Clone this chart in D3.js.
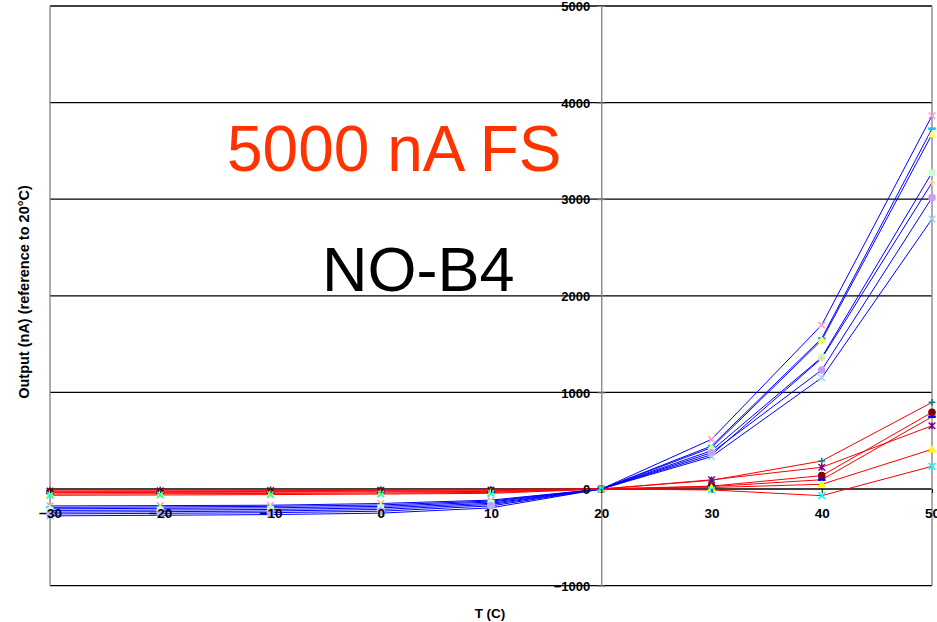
<!DOCTYPE html>
<html><head><meta charset="utf-8">
<script src="https://cdn.jsdelivr.net/npm/d3@7"></script>
<style>body{margin:0;background:#fff}svg{display:block}</style>
</head><body>
<svg id="c" width="937" height="622"></svg>
<script>
const temps = [-30,-20,-10,0,10,20,30,40,50];
const xTicks = [-30,-20,-10,0,10,20,30,40,50];
const yTicks = [-1000,0,1000,2000,3000,4000,5000];

const blueSeries = [
  {name:"B1", marker:"x",        color:"#FF99CC", values:[-175,-172,-168,-150,-115,0,514,1698,3864]},
  {name:"B2", marker:"dash",     color:"#00CCFF", values:[-190,-186,-180,-165,-125,0,445,1560,3730]},
  {name:"B3", marker:"triangle", color:"#FFFF66", values:[-205,-200,-195,-180,-135,0,428,1542,3672]},
  {name:"B4", marker:"square",   color:"#CCFFCC", values:[-222,-218,-212,-195,-148,0,397,1363,3274]},
  {name:"B5", marker:"plus",     color:"#FFCC99", values:[-240,-235,-228,-212,-160,0,355,1353,3171]},
  {name:"B6", marker:"circle",   color:"#CC99FF", values:[-258,-252,-245,-230,-175,0,376,1232,3016]},
  {name:"B7", marker:"x",        color:"#99CCFF", values:[-278,-272,-265,-250,-195,0,335,1152,2795]}
];
const redSeries = [
  {name:"R1", marker:"plus",     color:"#008080", values:[-10,-8,-6,-5,-3,0,90,290,897]},
  {name:"R2", marker:"asterisk", color:"#800080", values:[-21,-19,-17,-14,-10,0,95,225,655]},
  {name:"R3", marker:"circle",   color:"#800000", values:[-30,-28,-26,-22,-18,0,30,138,794]},
  {name:"R4", marker:"dash",     color:"#0000FF", values:[-38,-35,-33,-30,-25,0,25,96,748]},
  {name:"R5", marker:"triangle", color:"#FFFF00", values:[-52,-49,-46,-42,-35,0,15,49,411]},
  {name:"R6", marker:"x",        color:"#00FFFF", values:[-65,-62,-58,-52,-45,0,-10,-69,235]}
];

const L = 50, R = 932, T = 6, B = 585.6;
const FONT = "Liberation Sans, Arial, sans-serif";
const svg = d3.select("#c");
const x = d3.scaleLinear().domain([-30,50]).range([L,R]);
const y = d3.scaleLinear().domain([-1000,5000]).range([B,T]);

// horizontal gridlines
svg.append("g").selectAll("line").data(yTicks.filter(d=>d>-1000&&d<5000)).join("line")
  .attr("x1",L).attr("x2",R).attr("y1",d=>y(d)).attr("y2",d=>y(d))
  .attr("stroke","#000").attr("stroke-width",1.3);

// frame
svg.append("line").attr("x1",L).attr("x2",R).attr("y1",T).attr("y2",T).attr("stroke","#000").attr("stroke-width",1.3);
svg.append("line").attr("x1",L).attr("x2",R).attr("y1",B).attr("y2",B).attr("stroke","#000").attr("stroke-width",1.3);
svg.append("line").attr("x1",L).attr("x2",L).attr("y1",T).attr("y2",B).attr("stroke","#808080").attr("stroke-width",1.3);
svg.append("line").attr("x1",R).attr("x2",R).attr("y1",T).attr("y2",B).attr("stroke","#808080").attr("stroke-width",1.3);

const line = d3.line().x((d,i)=>x(temps[i])).y(d=>y(d));

svg.append("g").selectAll("path").data(blueSeries).join("path")
  .attr("d",d=>line(d.values)).attr("fill","none").attr("stroke","#0000FF").attr("stroke-width",1);
svg.append("g").selectAll("path").data(redSeries).join("path")
  .attr("d",d=>line(d.values)).attr("fill","none").attr("stroke","#FF0000").attr("stroke-width",1);

function drawMarker(g, type, color){
  const s = 3.3;
  if(type==="x"){
    g.append("path").attr("d",`M${-s},${-s}L${s},${s}M${-s},${s}L${s},${-s}`).attr("stroke",color).attr("stroke-width",1.5);
  } else if(type==="plus"){
    g.append("path").attr("d",`M${-s},0L${s},0M0,${-s}L0,${s}`).attr("stroke",color).attr("stroke-width",1.5);
  } else if(type==="asterisk"){
    g.append("path").attr("d",`M${-s},${-s}L${s},${s}M${-s},${s}L${s},${-s}M0,${-s}L0,${s}`).attr("stroke",color).attr("stroke-width",1.5);
  } else if(type==="dash"){
    g.append("rect").attr("x",-s-0.5).attr("y",-1.3).attr("width",2*s+1).attr("height",2.6).attr("fill",color);
  } else if(type==="triangle"){
    g.append("path").attr("d",`M0,${-s-1}L${s+1},${s}L${-s-1},${s}Z`).attr("fill",color);
  } else if(type==="square"){
    g.append("rect").attr("x",-s).attr("y",-s).attr("width",2*s).attr("height",2*s).attr("fill",color);
  } else if(type==="circle"){
    g.append("circle").attr("r",s+0.5).attr("fill",color);
  }
}
[...blueSeries, ...redSeries].forEach(s=>{
  const g = svg.append("g");
  s.values.forEach((v,i)=>{
    const m = g.append("g").attr("transform",`translate(${x(temps[i])},${y(v)})`);
    drawMarker(m, s.marker, s.color);
  });
});

// y axis at x=20
const yAxis = d3.axisLeft(y).tickValues(yTicks).tickFormat(d3.format("d")).tickSize(0).tickPadding(0);
const gy = svg.append("g").attr("transform",`translate(${x(20)},0)`).call(yAxis);
gy.select(".domain").attr("stroke","#808080").attr("stroke-width",1.3);
gy.selectAll(".tick text").attr("x",-11).attr("dy","0.36em")
  .attr("font-family",FONT).attr("font-weight","bold").attr("font-size",13).attr("fill","#000");
gy.selectAll(".tick").append("line").attr("x1",-4).attr("x2",4).attr("stroke","#808080");

// x axis at y=0
const xAxis = d3.axisBottom(x).tickValues(xTicks).tickFormat(d3.format("d")).tickSize(4).tickPadding(0);
const gx = svg.append("g").attr("transform",`translate(0,${y(0)})`).call(xAxis);
gx.select(".domain").remove();
gx.selectAll(".tick line").attr("stroke","#000");
gx.selectAll(".tick text").attr("y",29).attr("dy",0)
  .attr("font-family",FONT).attr("font-weight","bold").attr("font-size",13.5).attr("fill","#000");

// annotations
svg.append("text").attr("x",227).attr("y",171).text("5000 nA FS")
  .attr("font-family",FONT).attr("font-size",64).attr("fill","#FF3300");
svg.append("text").attr("x",322).attr("y",291).text("NO-B4")
  .attr("font-family",FONT).attr("font-size",63).attr("fill","#000");

// axis titles
svg.append("text").attr("transform","translate(29,292) rotate(-90)").attr("text-anchor","middle")
  .text("Output (nA) (reference to 20°C)")
  .attr("font-family",FONT).attr("font-weight","bold").attr("font-size",14.5).attr("fill","#000");
svg.append("text").attr("x",490).attr("y",618).attr("text-anchor","middle").text("T (C)")
  .attr("font-family",FONT).attr("font-weight","bold").attr("font-size",13.5).attr("fill","#000");
</script>
</body></html>
